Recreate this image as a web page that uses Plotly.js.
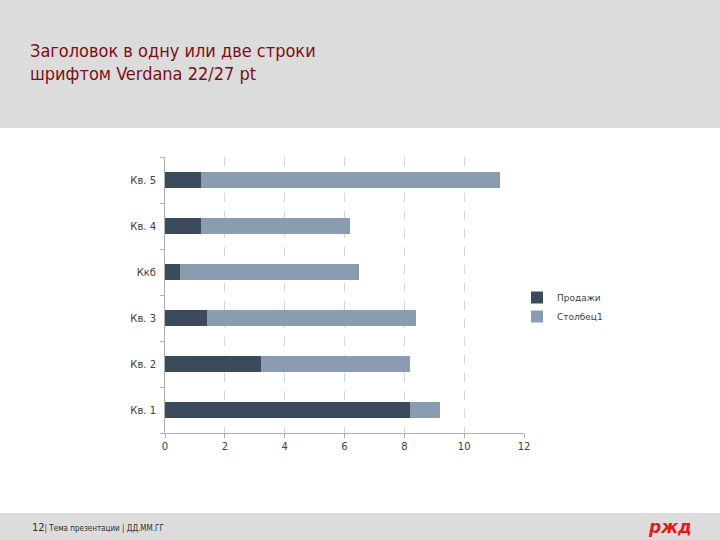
<!DOCTYPE html>
<html>
<head>
<meta charset="utf-8">
<script src="https://cdn.plot.ly/plotly-3.0.1.min.js"></script>
<style>html,body{margin:0;padding:0;background:#fff;overflow:hidden;}#chart{width:720px;height:540px;}</style>
</head>
<body>
<div id="chart"></div>
<script>
const categories = ["Кв. 1", "Кв. 2", "Кв. 3", "Ккб", "Кв. 4", "Кв. 5"];
const sales = [8.2, 3.2, 1.4, 0.5, 1.2, 1.2];
const column1 = [1.0, 5.0, 7.0, 6.0, 5.0, 10.0];
const xTicks = [0, 2, 4, 6, 8, 10, 12];
const seriesNames = ["Продажи", "Столбец1"];

const traces = [
  {type: "bar", orientation: "h", y: categories, x: sales, name: seriesNames[0],
   marker: {color: "#3b4b5c"}},
  {type: "bar", orientation: "h", y: categories, x: column1, name: seriesNames[1],
   marker: {color: "#8a9db0"}}
];

const narrow = "DejaVu Sans Condensed, DejaVu Sans, sans-serif";

const layout = {
  width: 720, height: 540,
  paper_bgcolor: "#ffffff", plot_bgcolor: "#ffffff",
  barmode: "stack", bargap: 0.65,
  margin: {l: 165, r: 196, t: 157, b: 107, autoexpand: false},
  font: {family: "DejaVu Sans", color: "#404040"},
  xaxis: {range: [0, 12], tickvals: xTicks, ticktext: xTicks.map(String),
    showgrid: true, gridcolor: "#d4d4d4", griddash: "dash", gridwidth: 1,
    zeroline: false, showline: true, linecolor: "#b0b0b0", linewidth: 1,
    ticks: "outside", ticklen: 4, tickcolor: "#b0b0b0",
    tickfont: {size: 10, color: "#404040"}, fixedrange: true, automargin: false},
  yaxis: {type: "category", categoryorder: "array", categoryarray: categories,
    showgrid: false, zeroline: false, showline: true, linecolor: "#b0b0b0", linewidth: 1,
    ticks: "outside", tickson: "boundaries", ticklen: 4, tickcolor: "#b0b0b0",
    tickfont: {size: 10, color: "#404040"}, ticklabelstandoff: 6, fixedrange: true, automargin: false},
  showlegend: true,
  legend: {x: 517/720, xref: "container", y: 1 - 283/540, yref: "container",
    xanchor: "left", yanchor: "top", traceorder: "normal",
    font: {size: 9, color: "#404040"}, itemwidth: 30, bgcolor: "rgba(0,0,0,0)"},
  title: {text: "Заголовок в одну или две строки<br>шрифтом Verdana 22/27 pt",
    xref: "container", yref: "container", x: 30/720, xanchor: "left",
    y: 1 - 57/540, yanchor: "top", automargin: false,
    font: {family: narrow, size: 18, color: "#7d0f14"}},
  shapes: [
    {type: "rect", xref: "paper", yref: "paper", x0: -165/359, x1: 1 + 196/359,
     y0: 1 + 29/276, y1: 1 + 157/276, fillcolor: "#dcdcdc", line: {width: 0}, layer: "below"},
    {type: "rect", xref: "paper", yref: "paper", x0: -165/359, x1: 1 + 196/359,
     y0: -107/276, y1: -80/276, fillcolor: "#dcdcdc", line: {width: 0}, layer: "below"}
  ],
  annotations: [
    {text: "<span style='font-size:11px'>12</span>| Тема презентации | ДД.ММ.ГГ", xref: "paper", yref: "paper",
     x: -135/359, y: -94/276, xanchor: "left", yanchor: "middle", showarrow: false,
     font: {family: narrow, size: 8, color: "#303030"}},
    {text: "<b><i>ржд</i></b>", xref: "paper", yref: "paper",
     x: (670-165)/359, y: -94/276, xanchor: "center", yanchor: "middle", showarrow: false,
     font: {family: "DejaVu Sans", size: 17, color: "#e21a1a"}}
  ]
};

Plotly.newPlot("chart", traces, layout, {displayModeBar: false, staticPlot: true});
</script>
</body>
</html>
